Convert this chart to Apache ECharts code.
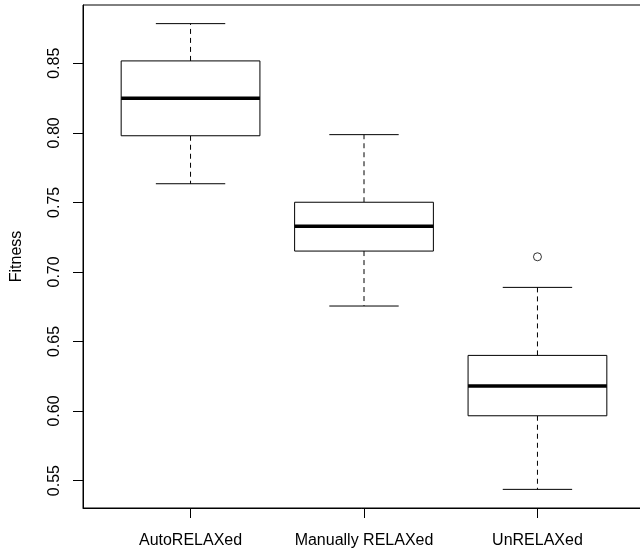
<style>body { margin: 0; }</style>
<div id="chart" style="width: 640px; height: 550px;"></div>
<script src="https://cdn.jsdelivr.net/npm/echarts@6/dist/echarts.min.js"></script>
<script>
const chart = echarts.init(document.getElementById('chart'));

// groups
const categories = ['AutoRELAXed', 'Manually RELAXed', 'UnRELAXed'];
const lowerWhisker = [0.7634, 0.6755, 0.5437];
const q1 = [0.7979, 0.7150, 0.5966];
const median = [0.8248, 0.7328, 0.6180];
const q3 = [0.8517, 0.7501, 0.6400];
const upperWhisker = [0.8785, 0.7987, 0.6889];
// [group position, value]
const outliers = [[3, 0.7109]];
const yTicks = [0.55, 0.60, 0.65, 0.70, 0.75, 0.80, 0.85];
const xTicks = [1, 2, 3];

const font = 'Liberation Sans, Arial, sans-serif';

// one row per box: position, lower, q1, median, q3, upper
const boxData = categories.map((c, i) => [i + 1, lowerWhisker[i], q1[i], median[i], q3[i], upperWhisker[i]]);

// R style box: dashed whiskers, short caps, thick median
function renderBox(params, api) {
  const x = api.value(0);
  const lo = api.coord([x, api.value(1)]);
  const b1 = api.coord([x, api.value(2)]);
  const md = api.coord([x, api.value(3)]);
  const b3 = api.coord([x, api.value(4)]);
  const hi = api.coord([x, api.value(5)]);
  const boxW = api.size([0.8, 0])[0];
  const capW = api.size([0.4, 0])[0];
  const cx = lo[0];
  const solid = { stroke: '#000', lineWidth: 1, fill: null };
  const dashed = { stroke: '#000', lineWidth: 1, lineDash: [5, 4] };
  return {
    type: 'group',
    children: [
      { type: 'line', shape: { x1: cx, y1: b3[1], x2: cx, y2: hi[1] }, style: dashed },
      { type: 'line', shape: { x1: cx, y1: b1[1], x2: cx, y2: lo[1] }, style: dashed },
      { type: 'line', shape: { x1: cx - capW / 2, y1: hi[1], x2: cx + capW / 2, y2: hi[1] }, style: solid },
      { type: 'line', shape: { x1: cx - capW / 2, y1: lo[1], x2: cx + capW / 2, y2: lo[1] }, style: solid },
      { type: 'rect', shape: { x: cx - boxW / 2, y: b3[1], width: boxW, height: b1[1] - b3[1] },
        style: { fill: '#fff', stroke: '#000', lineWidth: 1 } },
      { type: 'line', shape: { x1: cx - boxW / 2, y1: md[1], x2: cx + boxW / 2, y2: md[1] },
        style: { stroke: '#000', lineWidth: 3.5 } }
    ]
  };
}

const option = {
  animation: false,
  backgroundColor: '#fff',
  grid: {
    left: 83, top: 5, width: 562, height: 503,
    outerBoundsMode: 'none',
    show: true, borderColor: '#000', borderWidth: 1, backgroundColor: 'transparent'
  },
  xAxis: {
    type: 'value',
    min: 0.38,
    max: 3.62,
    splitLine: { show: false },
    axisLine: { show: true, lineStyle: { color: '#000' } },
    axisTick: { show: true, customValues: xTicks, length: 10, lineStyle: { color: '#000' } },
    axisLabel: {
      customValues: xTicks,
      formatter: v => categories[Math.round(v) - 1],
      margin: 19,
      color: '#000',
      fontSize: 16,
      fontFamily: font
    }
  },
  yAxis: {
    type: 'value',
    min: 0.5303,
    max: 0.8919,
    name: 'Fitness',
    nameLocation: 'middle',
    nameGap: 53,
    nameTextStyle: { color: '#000', fontSize: 16, fontFamily: font },
    splitLine: { show: false },
    axisLine: { show: true, lineStyle: { color: '#000' } },
    axisTick: { show: true, customValues: yTicks, length: 10, lineStyle: { color: '#000' } },
    axisLabel: {
      customValues: yTicks,
      formatter: v => v.toFixed(2),
      rotate: 90,
      margin: 15,
      color: '#000',
      fontSize: 16,
      fontFamily: font
    }
  },
  series: [
    {
      type: 'custom',
      renderItem: renderBox,
      encode: { x: 0, y: [1, 2, 3, 4, 5] },
      data: boxData
    },
    {
      type: 'scatter',
      symbol: 'circle',
      symbolSize: 8,
      itemStyle: { color: '#fff', borderColor: '#000', borderWidth: 1 },
      data: outliers
    }
  ]
};

chart.setOption(option);
</script>
